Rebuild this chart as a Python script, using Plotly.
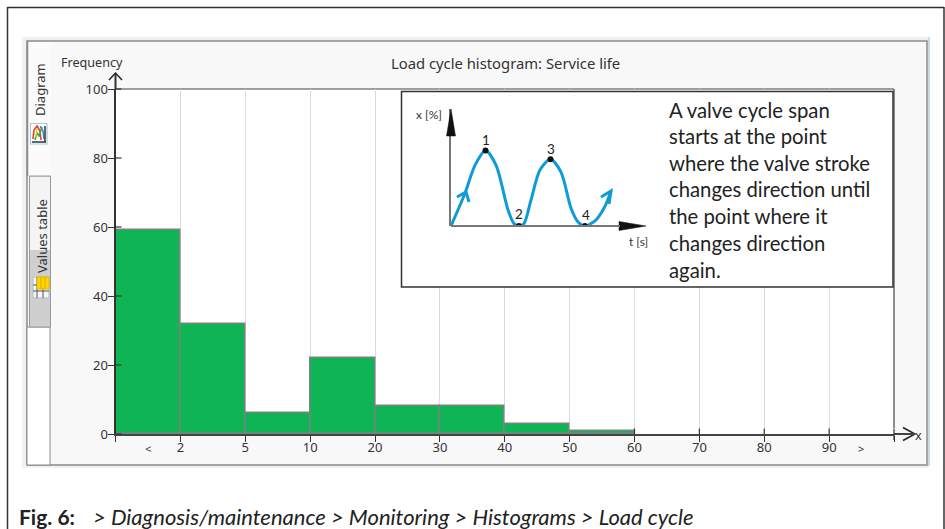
import plotly.graph_objects as go

W, H = 945, 529

# ---- data ----
bin_labels = ["<", "2-5", "5-10", "10-20", "20-30", "30-40", "40-50", "50-60"]
bin_centres = [0.5, 1.5, 2.5, 3.5, 4.5, 5.5, 6.5, 7.5]
frequency = [59, 32, 6, 22, 8, 8, 3, 1]
x_tick_positions = [1, 2, 3, 4, 5, 6, 7, 8, 9, 10, 11]
x_tick_labels = ["2", "5", "10", "20", "30", "40", "50", "60", "70", "80", "90"]
y_ticks = [0, 20, 40, 60, 80, 100]

cycle_t = [0, 7.2, 12.4, 17.8, 23.2, 29.4, 32.5, 35, 37.6, 41.2, 45.9, 51.3, 56.7, 61.9, 65.5, 69, 74.2, 78.9, 82.5]
cycle_x = [0, 28, 52, 64.5, 52, 13.7, 2, 0, 2, 22, 48, 57, 46, 15, 3.4, 0, 4.3, 15.4, 30]
turn_t = [17.8, 35, 51.3, 69]
turn_x = [64.5, 0, 57, 0]

note_lines = ["A valve cycle span", "starts at the point", "where the valve stroke",
              "changes direction until", "the point where it", "changes direction", "again."]
note_y = [110, 136, 163, 189, 216, 243, 270]


# ---- layout helpers (pixel -> paper) ----
def px(v):
    return v / W


def py(v):
    return 1 - v / H


L, R, T, B = 115.5, 894, 89, 434
FONT = "Noto Sans"
TXT = "#333333"
shapes = []
ann = []


def rect(x0, y0, x1, y1, fill, line=None, w=1, layer="below"):
    shapes.append(dict(type="rect", xref="paper", yref="paper", x0=px(x0), x1=px(x1), y0=py(y0), y1=py(y1),
                       fillcolor=fill, line=dict(color=line or fill, width=w if line else 0), layer=layer))


def seg(x0, y0, x1, y1, color, w=1, layer="below"):
    shapes.append(dict(type="line", xref="paper", yref="paper", x0=px(x0), x1=px(x1), y0=py(y0), y1=py(y1),
                       line=dict(color=color, width=w), layer=layer))


def poly(points, color=None, fill=None, w=2, layer="above"):
    path = "M" + " L".join(f"{px(a):.5f},{py(b):.5f}" for a, b in points)
    if fill:
        path += " Z"
    shapes.append(dict(type="path", xref="paper", yref="paper", path=path, fillcolor=fill,
                       line=dict(color=color or fill, width=w), layer=layer))


def text(x, y, s, size=12, color=TXT, family=FONT, anchor="center", angle=0):
    ann.append(dict(xref="paper", yref="paper", x=px(x), y=py(y), text=s, showarrow=False, xanchor=anchor,
                    yanchor="middle", textangle=angle, font=dict(size=size, color=color, family=family)))


# outer frame
seg(7.5, 7.5, 944, 7.5, "#333333", 1.5)
seg(7.5, 7, 7.5, 529, "#333333", 1.5)
seg(944, 7, 944, 529, "#333333", 1.5)

# application panel
rect(22, 37, 929, 468, "#f1f1f1")
rect(27, 41, 927, 465, "#f8f8f8", "#8a8a8a", 1.5)
seg(929, 37, 929, 466, "#b9cfe6", 1.5)
rect(27, 327, 50, 465, "#ffffff", "#8a8a8a", 1)
rect(28, 42, 51, 176, "#fbfbfb")
seg(27.5, 41, 27.5, 176, "#8a8a8a", 1.5)
rect(29.5, 176, 50.5, 327, "#cfcfcf", "#9a9a9a", 1)
rect(30, 177, 50, 250, "#f4f4f4")

# plot area white
rect(L, T, R, B, "#ffffff")

# Diagram icon
rect(30.5, 123.5, 47, 144, "#ffffff", "#a8cbd6", 1.2)
poly([(33, 139), (34, 130), (37, 126), (40, 131), (41, 140)], color="#e2402a", w=1.6)
poly([(35, 140), (37, 133), (39, 136), (42, 127)], color="#35a845", w=1.6)
poly([(40, 126), (43, 131), (44, 139)], color="#2f79d8", w=1.4)
poly([(37, 128), (36, 137)], color="#f3c911", w=1.4)
seg(32, 142, 46, 142, "#333333", 1.5, "above")
seg(45, 126, 45, 142, "#333333", 1.5, "above")

# Values table icon
rect(33, 277, 49, 298, "#f4f7f8", "#a8c0c8", 1)
for yy in (285, 291):
    seg(33, yy, 49, yy, "#555555", 1, "above")
for xx in (37, 43):
    seg(xx, 277, xx, 298, "#555555", 1, "above")
rect(37, 277, 49, 289, "#ffd500", "#e8b400", 1, "above")
for xx in (41, 45):
    seg(xx, 277, xx, 289, "#e0a800", 1, "above")

# top / right border of the plot
seg(L, T, R, T, "#808080", 1.5)
seg(R, T, R, 428, "#6a6a6a", 1.5)

# note box, drawn over the gridlines and under the sketch
shapes.append(dict(type="rect", xref="x", yref="y", x0=(401.5 - L) / 64.875, x1=(893 - L) / 64.875,
                   y0=(B - 287) / 3.45, y1=(B - 91.5) / 3.45, fillcolor="#ffffff",
                   line=dict(color="#333333", width=1.5), layer="between"))

# axis chevrons
poly([(109, 80), (115.5, 73), (122, 80)], color="#222222", w=1.5)
poly([(903, 427.5), (915, 434), (903, 440.5)], color="#222222", w=1.5)
seg(R, 434, 915, 434, "#444444", 2, "above")

# tick marks crossing the x axis on the empty side
for v in [8, 9, 10, 11, 12]:
    seg(L + 64.875 * v, 428.5, L + 64.875 * v, 434, "#333333", 1.2, "above")
seg(L + 64.875 * 12, 434, L + 64.875 * 12, 440, "#333333", 1.2, "above")
seg(L, 73, L, T, "#333333", 2, "above")
for v in y_ticks:
    yy = B - 3.45 * v
    seg(L, yy, L + 6, yy, "#333333", 1.2, "above")

# sketch arrows
poly([(446.5, 136), (451, 109), (455.5, 136)], fill="#111111", w=0.5)
poly([(619, 221.5), (646, 226), (619, 230.5)], fill="#111111", w=0.5)
poly([(457, 197), (466, 192), (469, 202)], color="#0f9bd7", w=3)
poly([(601, 197), (611, 191), (609, 204)], color="#0f9bd7", w=3)

# texts
text(505, 63, "Load cycle histogram: Service life", 14.8)
text(58.5, 62, "Frequency", 12.6, anchor="left")
text(40, 90, "Diagram", 13, angle=-90)
text(42, 236, "Values table", 13, angle=-90)
text(148, 448, "&lt;", 11)
text(861, 448, "&gt;", 11)
text(913, 435, "x", 12.6, anchor="left")
text(429, 115, "x [%]", 12, family="Lato")
text(638, 242, "t [s]", 12, family="Lato")
for lx, ly, s in [(486, 140, "1"), (519, 214, "2"), (551, 149, "3"), (586, 215, "4")]:
    text(lx, ly, s, 13.5, color="#222222", family="Lato")
for line, yy in zip(note_lines, note_y):
    text(666.5, yy, line, 20.3, color="#222222", family="Lato", anchor="left")
text(17, 516, "<b>Fig. 6:</b>", 21, color="#222222", family="Lato", anchor="left")
text(91, 516, "<i>&gt; Diagnosis/maintenance &gt; Monitoring &gt; Histograms &gt; Load cycle</i>", 22,
     color="#222222", family="Lato", anchor="left")

fig = go.Figure()
fig.add_trace(go.Bar(x=bin_centres, y=frequency, width=1, customdata=bin_labels,
                     marker=dict(color="#0fb554", line=dict(color="#808080", width=1.5)), showlegend=False))
fig.add_trace(go.Scatter(x=cycle_t, y=cycle_x, xaxis="x2", yaxis="y2", mode="lines",
                         line=dict(color="#0f9bd7", width=3, shape="spline", smoothing=0.8), showlegend=False))
fig.add_trace(go.Scatter(x=turn_t, y=turn_x, xaxis="x2", yaxis="y2", mode="markers",
                         marker=dict(color="#111111", size=6), showlegend=False))

fig.update_layout(
    template="none",
    width=W, height=H, autosize=False, margin=dict(l=0, r=0, t=0, b=0, pad=0),
    paper_bgcolor="#ffffff", plot_bgcolor="rgba(0,0,0,0)", bargap=0,
    font=dict(family=FONT, size=13, color=TXT),
    shapes=shapes, annotations=ann,
    xaxis=dict(domain=[px(L), px(R)], range=[0, 12], tickmode="array", automargin=False,
               tickvals=x_tick_positions + [0, 12], ticktext=x_tick_labels + ["", ""],
               ticks="outside", ticklen=6, tickwidth=1.2, tickcolor="#333333", ticklabelstandoff=-6,
               showgrid=True, gridcolor="#dcdcdc", gridwidth=1.2, zeroline=False,
               showline=True, linecolor="#444444", linewidth=2, anchor="y", tickfont=dict(size=13, color=TXT)),
    yaxis=dict(domain=[py(B), py(T)], range=[0, 100], tickmode="array", tickvals=y_ticks, automargin=False,
               ticks="outside", ticklen=6, tickwidth=1.2, tickcolor="#333333", showgrid=False, zeroline=False,
               ticklabelstandoff=-3,
               showline=True, linecolor="#333333", linewidth=2, anchor="x", tickfont=dict(size=13, color=TXT)),
    xaxis2=dict(domain=[px(451), px(645)], range=[0, 100], visible=False, anchor="y2", fixedrange=True,
                automargin=False),
    yaxis2=dict(domain=[py(226), py(109)], range=[0, 100], anchor="x2", fixedrange=True, showgrid=False,
                automargin=False, zeroline=False, showticklabels=False, ticks="", showline=True,
                linecolor="#777777", linewidth=2),
)
fig.add_shape(type="line", xref="paper", yref="paper", x0=px(451), x1=px(620), y0=py(226), y1=py(226),
              line=dict(color="#777777", width=2), layer="above")
fig.write_html("out.html", config={"displayModeBar": False},
               post_script="document.body.style.margin='0';document.body.style.overflow='hidden';")
